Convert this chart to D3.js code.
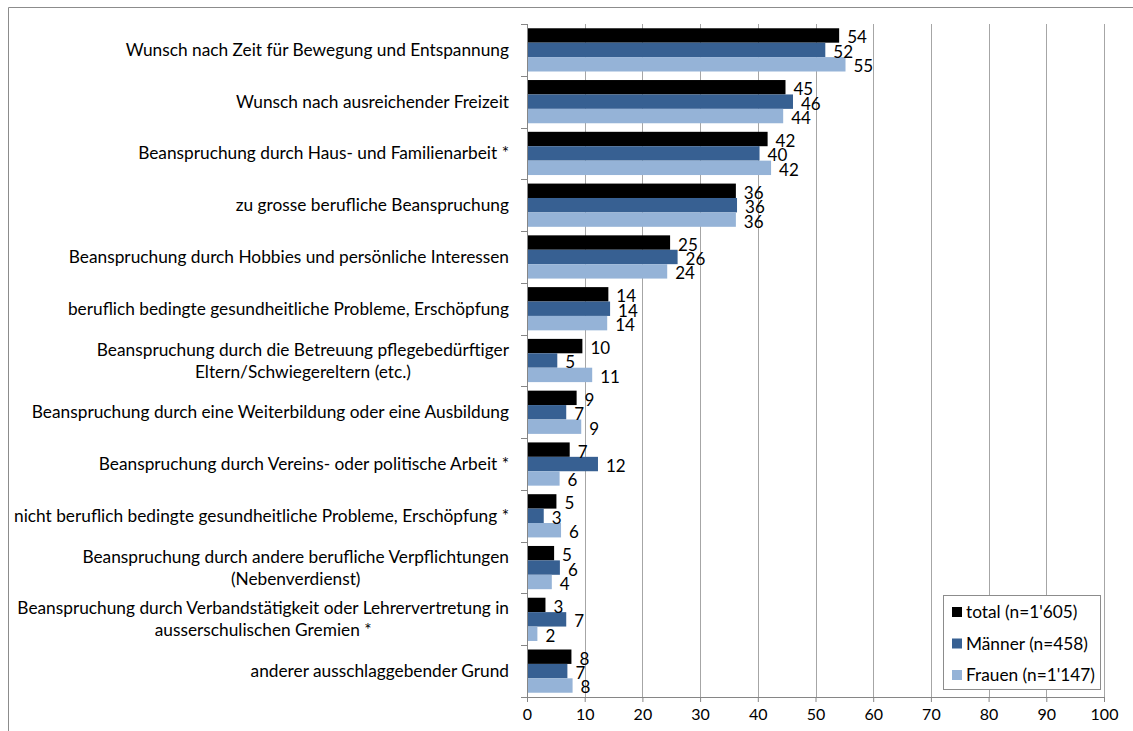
<!DOCTYPE html>
<html>
<head>
<meta charset="utf-8">
<script src="https://cdn.jsdelivr.net/npm/d3@7"></script>
<style>
  body { margin: 0; background: #fff; }
  text { font-family: Lato, "Open Sans", sans-serif; fill: #000; }
</style>
</head>
<body>
<div id="chart"></div>
<script>
// categories (top to bottom), "\n" marks a line break in the label
const categories = [
  "Wunsch nach Zeit für Bewegung und Entspannung",
  "Wunsch nach ausreichender Freizeit",
  "Beanspruchung durch Haus- und Familienarbeit *",
  "zu grosse berufliche Beanspruchung",
  "Beanspruchung durch Hobbies und persönliche Interessen",
  "beruflich bedingte gesundheitliche Probleme, Erschöpfung",
  "Beanspruchung durch die Betreuung pflegebedürftiger\nEltern/Schwiegereltern (etc.)",
  "Beanspruchung durch eine Weiterbildung oder eine Ausbildung",
  "Beanspruchung durch Vereins- oder politische Arbeit *",
  "nicht beruflich bedingte gesundheitliche Probleme, Erschöpfung *",
  "Beanspruchung durch andere berufliche Verpflichtungen\n(Nebenverdienst)",
  "Beanspruchung durch Verbandstätigkeit oder Lehrervertretung in\nausserschulischen Gremien *",
  "anderer ausschlaggebender Grund"
];

const seriesNames = ["total (n=1'605)", "Männer (n=458)", "Frauen (n=1'147)"];

const totalValues  = [54.1, 44.8, 41.7, 36.2, 24.8, 14.1, 9.6, 8.6, 7.4, 5.1, 4.7, 3.2, 7.7];
const maennerValues = [51.7, 46.1, 40.3, 36.4, 26.1, 14.4, 5.25, 6.8, 12.3, 2.9, 5.7, 6.8, 7.0];
const frauenValues = [55.2, 44.4, 42.3, 36.2, 24.3, 13.9, 11.3, 9.4, 5.65, 5.9, 4.3, 1.8, 7.9];

const xTicks = [0, 10, 20, 30, 40, 50, 60, 70, 80, 90, 100];

const colors = ["#000000", "#376092", "#95b3d7"];

const config = {
  width: 1133, height: 731,
  margin: {top: 24, right: 29, bottom: 34, left: 527},
  catFont: 17.3,
  valueFont: 17,
  tickFont: 16,
  legendFont: 17.3
};

const plotW = config.width - config.margin.left - config.margin.right;
const plotH = config.height - config.margin.top - config.margin.bottom;

const svg = d3.select('#chart').append('svg')
    .attr('width', config.width)
    .attr('height', config.height);

// outer frame (top and left edges visible)
svg.append('path')
    .attr('d', `M8.5,${config.height} V7.5 H${config.width}`)
    .attr('fill', 'none')
    .attr('stroke', '#8c8c8c')
    .attr('stroke-width', 1);

const g = svg.append('g')
    .attr('transform', `translate(${config.margin.left},${config.margin.top})`);

const xScale = d3.scaleLinear().domain([0, 100]).range([0, plotW]);
const yScale = d3.scaleBand().domain(d3.range(categories.length))
    .range([0, plotH]).paddingInner(0.165).paddingOuter(0.0825);
const subScale = d3.scaleBand().domain(d3.range(3)).range([0, yScale.bandwidth()]);

// vertical gridlines
g.append('g').selectAll('line')
  .data(xTicks.filter(d => d > 0))
  .join('line')
    .attr('x1', d => Math.round(xScale(d)) + 0.5)
    .attr('x2', d => Math.round(xScale(d)) + 0.5)
    .attr('y1', 0)
    .attr('y2', plotH)
    .attr('stroke', '#a6a6a6');

// x axis
const xAxis = d3.axisBottom(xScale).tickValues(xTicks).tickSize(5).tickPadding(7);
const xAxisG = g.append('g')
    .attr('transform', `translate(0,${plotH})`)
    .call(xAxis);
xAxisG.select('.domain').attr('stroke', '#868686').attr('d', `M0.5,0.5H${plotW + 0.5}`);
xAxisG.selectAll('.tick line').attr('stroke', '#868686');
xAxisG.selectAll('.tick text')
    .attr('font-size', config.tickFont)
    .attr('font-family', 'Lato, sans-serif')
    .attr('fill', '#000');

// y axis line and category ticks at band boundaries
const step = yScale.step();
g.append('line')
    .attr('x1', 0.5).attr('x2', 0.5).attr('y1', 0).attr('y2', plotH)
    .attr('stroke', '#868686');
g.append('g').selectAll('line')
  .data(d3.range(categories.length + 1))
  .join('line')
    .attr('x1', -6).attr('x2', 0.5)
    .attr('y1', d => Math.round(d * step) + 0.5)
    .attr('y2', d => Math.round(d * step) + 0.5)
    .attr('stroke', '#868686');

// bars
const series = [totalValues, maennerValues, frauenValues];
const rows = [];
series.forEach((vals, s) => vals.forEach((v, i) => rows.push({s, i, v})));

const barG = g.append('g');
barG.selectAll('rect')
  .data(rows)
  .join('rect')
    .attr('x', 1)
    .attr('y', d => yScale(d.i) + subScale(d.s))
    .attr('width', d => xScale(d.v) - 1)
    .attr('height', subScale.bandwidth())
    .attr('fill', d => colors[d.s]);

// value labels
barG.selectAll('text')
  .data(rows)
  .join('text')
    .attr('x', d => xScale(d.v) + 8)
    .attr('y', d => yScale(d.i) + subScale(d.s) + subScale.bandwidth() / 2 + 2)
    .attr('dy', '0.35em')
    .attr('font-size', config.valueFont)
    .text(d => d3.format('.0f')(d.v));

// category labels
const labelRight = -18;
const lineH = 22;
const catG = g.append('g');
categories.forEach((c, i) => {
  const lines = c.split('\n');
  const cy = yScale(i) + yScale.bandwidth() / 2;
  const t = catG.append('text')
      .attr('font-size', config.catFont)
      .attr('text-anchor', lines.length > 1 ? 'middle' : 'end');
  const spans = lines.map((ln, k) => t.append('tspan')
      .attr('y', cy + (k - (lines.length - 1) / 2) * lineH)
      .attr('dy', '0.35em')
      .text(ln));
  if (lines.length > 1) {
    const maxW = d3.max(spans, sp => sp.node().getComputedTextLength());
    spans.forEach(sp => sp.attr('x', labelRight - maxW / 2));
  } else {
    spans.forEach(sp => sp.attr('x', labelRight));
  }
});

// legend
const legend = svg.append('g').attr('transform', 'translate(943,595)');
legend.append('rect')
    .attr('x', 0.5).attr('y', 0.5)
    .attr('width', 157).attr('height', 94)
    .attr('fill', '#fff')
    .attr('stroke', '#8c8c8c');
seriesNames.forEach((n, s) => {
  const row = legend.append('g').attr('transform', `translate(9,${17 + s * 31.5})`);
  row.append('rect')
      .attr('x', 0).attr('y', -5)
      .attr('width', 10).attr('height', 10)
      .attr('fill', colors[s]);
  row.append('text')
      .attr('x', 14).attr('y', 0)
      .attr('dy', '0.35em')
      .attr('font-size', config.legendFont)
      .text(n);
});
</script>
</body>
</html>
